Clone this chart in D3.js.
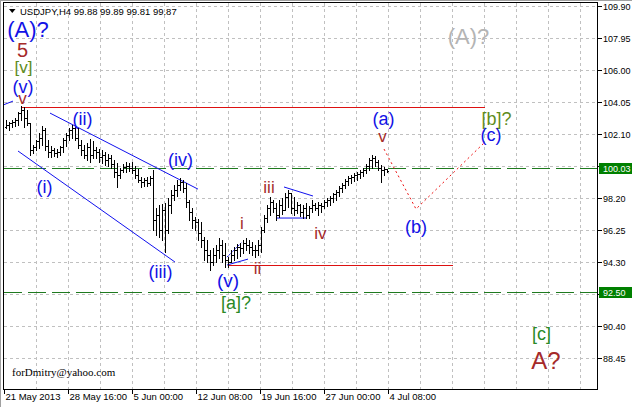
<!DOCTYPE html>
<html><head><meta charset="utf-8">
<script src="https://cdn.jsdelivr.net/npm/d3@7"></script>
<style>body{margin:0;background:#fff;} svg{display:block;}</style>
</head><body>
<svg id="c" width="632" height="407"></svg>
<script>
// ---------- data ----------
const symbolTitle = "USDJPY,H4  99.88 99.89 99.81 99.87";
const timeLabels = ["21 May 2013", "28 May 16:00", "5 Jun 00:00", "12 Jun 08:00", "19 Jun 16:00", "27 Jun 00:00", "4 Jul 08:00"];
const timeLabelBar = [-0.67, 20.67, 42, 63.33, 84.67, 106, 127.33];
const priceTicks = [109.90, 107.95, 106.00, 104.05, 102.10, 100.15, 98.20, 96.25, 94.30, 92.35, 90.40, 88.45];
const firstOpen = 102.53;
const highs = [102.96,102.84,102.96,103.08,103.44,103.81,103.75,103.57,102.77,101.43,
  101.74,102.17,102.59,102.47,101.74,101.37,101.25,101.19,101.37,101.86,
  102.17,102.47,102.65,102.53,102.47,101.74,101.43,101.56,101.80,101.68,
  101.31,101.19,101.13,101.01,100.89,100.83,100.52,100.34,100.03,100.28,
  100.40,100.34,100.40,100.16,99.97,99.49,99.42,99.49,99.55,99.91,
  97.60,97.78,97.84,97.90,98.21,98.69,99.00,99.30,99.42,99.30,
  99.12,98.08,97.60,97.05,96.93,96.75,95.83,95.65,95.04,95.16,
  95.34,95.77,95.65,95.47,94.61,95.04,95.22,95.41,95.47,95.65,
  95.77,95.65,95.53,95.34,95.65,96.44,97.17,97.78,98.27,98.08,
  97.90,98.08,98.21,98.51,98.69,98.51,98.27,97.96,97.84,97.78,
  97.90,97.72,98.08,97.90,97.96,97.90,98.08,98.21,98.33,98.51,
  98.69,98.94,99.12,99.36,99.55,99.61,99.73,99.79,99.91,100.03,
  100.28,100.64,100.83,100.76,100.52,100.22,100.09,99.89];
const lows = [102.47,102.35,102.53,102.59,102.65,102.96,102.53,102.65,100.83,100.95,
  101.13,101.25,101.43,101.13,100.70,100.70,100.76,100.70,100.83,101.01,
  101.37,101.74,101.86,101.74,101.25,100.83,100.64,100.52,100.40,100.64,
  100.64,100.40,100.34,100.22,100.16,100.03,99.49,98.88,99.42,99.79,
  99.79,99.85,99.73,99.42,99.18,98.88,98.94,98.94,99.00,96.26,
  95.95,95.83,95.65,94.92,96.08,97.29,98.08,98.33,98.69,98.57,
  97.66,96.87,96.38,96.26,95.65,95.22,94.43,94.31,93.82,94.13,
  94.31,94.55,94.31,94.00,94.00,94.31,94.43,94.55,94.67,94.86,
  95.04,94.86,94.74,94.61,94.74,94.92,96.14,96.75,97.17,97.35,
  96.87,97.05,97.23,97.48,97.66,97.29,97.17,97.29,97.11,96.99,
  96.99,96.99,97.35,97.48,97.17,97.35,97.60,97.72,97.78,97.96,
  98.08,98.33,98.57,98.82,99.00,99.12,99.24,99.30,99.42,99.55,
  99.73,99.91,100.03,100.16,99.91,99.18,99.61,99.81];
const closes = [102.65,102.77,102.84,102.96,103.38,103.57,103.08,102.77,101.13,101.31,
  101.68,101.86,102.35,101.37,101.01,101.13,100.95,101.01,101.31,101.74,
  102.04,102.35,102.47,101.86,101.43,101.13,100.83,101.31,100.83,101.13,
  101.01,100.70,100.83,100.52,100.64,100.28,99.79,99.61,99.91,100.09,
  100.16,100.03,99.91,99.61,99.30,99.18,99.30,99.12,99.42,96.87,
  97.17,96.26,97.48,96.26,97.78,98.39,98.69,99.00,99.18,98.82,
  97.96,97.35,96.87,96.75,96.08,95.65,95.04,94.74,94.31,94.74,
  95.04,95.34,94.74,94.43,94.31,94.74,95.04,95.22,95.16,95.47,
  95.34,95.22,95.04,95.04,95.34,96.26,96.99,97.60,97.96,97.60,
  97.17,97.78,97.48,98.27,98.51,97.60,97.48,97.78,97.35,97.60,
  97.17,97.60,97.78,97.60,97.78,97.72,97.96,98.08,98.21,98.45,
  98.57,98.82,99.00,99.24,99.42,99.49,99.61,99.67,99.79,99.91,
  100.16,100.52,100.64,100.40,100.03,99.91,99.97,99.87];
const priceMarkers = [100.03, 92.50];
const redLevels = [{from: 5, to: 159.67, price: 103.77}, {from: 74, to: 149, price: 94.11}];
const blueLines = [
  {a: [-1, 103.87], b: [2.33, 104.11], dash: null},
  {a: [14.67, 103.38], b: [64, 98.75], dash: null},
  {a: [4, 101.07], b: [56.33, 94.31], dash: null},
  {a: [73.67, 94.61], b: [78.67, 95.53], dash: "2,1"},
  {a: [73.67, 94.13], b: [80.67, 94.49], dash: null},
  {a: [92.67, 98.88], b: [102.33, 98.33], dash: null},
  {a: [90, 96.99], b: [100, 96.99], dash: null}
];
const projection = [[126, 101.19], [136.67, 97.54], [159.33, 101.56]];
const BLUE = "#1212e6", BROWN = "#a52a2a", GREEN = "#2a8a26", OLIVE = "#5f8c1c", GRAY = "#b4b4b4";
const waveLabels = [
  {t: "(A)?", i: 7.33, p: 108.01, c: BLUE, s: 22},
  {t: "5", i: 5.5, p: 106.79, c: BROWN, s: 20},
  {t: "[v]", i: 5.83, p: 105.82, c: OLIVE, s: 17},
  {t: "(v)", i: 5.67, p: 104.63, c: BLUE, s: 18},
  {t: "v", i: 5.5, p: 103.93, c: BROWN, s: 17},
  {t: "(i)", i: 12.83, p: 98.51, c: BLUE, s: 18},
  {t: "(ii)", i: 25.5, p: 102.68, c: BLUE, s: 18},
  {t: "(iii)", i: 51.5, p: 93.33, c: BLUE, s: 18},
  {t: "(iv)", i: 58.17, p: 100.13, c: BLUE, s: 18},
  {t: "(v)", i: 74, p: 92.79, c: BLUE, s: 19},
  {t: "[a]?", i: 76.67, p: 91.48, c: GREEN, s: 18},
  {t: "i", i: 78.67, p: 96.32, c: BROWN, s: 17},
  {t: "ii", i: 83.83, p: 93.58, c: BROWN, s: 17},
  {t: "iii", i: 87.67, p: 98.51, c: BROWN, s: 17},
  {t: "iv", i: 104.83, p: 95.71, c: BROWN, s: 17},
  {t: "(a)", i: 125.83, p: 102.65, c: BLUE, s: 18},
  {t: "v", i: 125.5, p: 101.62, c: BROWN, s: 17},
  {t: "(b)", i: 136.67, p: 96.07, c: BLUE, s: 18},
  {t: "[b]?", i: 163.5, p: 102.65, c: OLIVE, s: 18},
  {t: "(c)", i: 161.67, p: 101.68, c: BLUE, s: 18},
  {t: "(A)?", i: 154.17, p: 107.59, c: GRAY, s: 22},
  {t: "[c]", i: 178.5, p: 89.56, c: GREEN, s: 18},
  {t: "A?", i: 180, p: 87.79, c: BROWN, s: 24}
];
const watermark = "forDmitry@yahoo.com";

// ---------- layout ----------
const L = 3.5, R = 597.5, T = 2.5, B = 389.5;
const FONT = "Liberation Sans, Arial, sans-serif";
const svg = d3.select("#c");
const x = d3.scaleLinear().domain([0, highs.length - 1]).range([6, 387]);
const y = d3.scaleLinear().domain([88.45, 109.90]).range([358.3, 6]);

// window border
svg.append("rect").attr("x", 0).attr("y", 0).attr("width", 632).attr("height", 407).attr("fill", "#fff");
svg.append("line").attr("x1", 0).attr("x2", 632).attr("y1", 0.5).attr("y2", 0.5).attr("stroke", "#a0a0a0");
svg.append("line").attr("x1", 0.5).attr("x2", 0.5).attr("y1", 0).attr("y2", 407).attr("stroke", "#a0a0a0");

// grid
const gridStep = (timeLabelBar[1] - timeLabelBar[0]) / 2;
const vGrid = d3.range(1, 19).map(k => timeLabelBar[0] + k * gridStep);
const grid = svg.append("g").attr("stroke", "#c0c0c0").attr("stroke-dasharray", "3,3").attr("shape-rendering", "crispEdges");
grid.selectAll("line.v").data(vGrid).join("line").attr("class", "v")
  .attr("x1", d => Math.round(x(d)) + 0.5).attr("x2", d => Math.round(x(d)) + 0.5)
  .attr("y1", T).attr("y2", B);
grid.selectAll("line.h").data(priceTicks).join("line").attr("class", "h")
  .attr("x1", L).attr("x2", R)
  .attr("y1", d => Math.round(y(d)) + 0.5).attr("y2", d => Math.round(y(d)) + 0.5);

// green dashed level lines
svg.append("g").selectAll("line").data(priceMarkers).join("line")
  .attr("x1", L).attr("x2", R)
  .attr("y1", d => Math.round(y(d)) + 0.5).attr("y2", d => Math.round(y(d)) + 0.5)
  .attr("stroke", "#1f7a1f").attr("stroke-dasharray", "18,6").attr("shape-rendering", "crispEdges");

// red horizontal levels
svg.append("g").selectAll("line").data(redLevels).join("line")
  .attr("x1", d => x(d.from)).attr("x2", d => x(d.to))
  .attr("y1", d => Math.round(y(d.price)) + 0.5).attr("y2", d => Math.round(y(d.price)) + 0.5)
  .attr("stroke", "#dd1111").attr("shape-rendering", "crispEdges");

// blue trend lines
svg.append("g").selectAll("line").data(blueLines).join("line")
  .attr("x1", d => x(d.a[0])).attr("y1", d => y(d.a[1]))
  .attr("x2", d => x(d.b[0])).attr("y2", d => y(d.b[1]))
  .attr("stroke", "#1010ee").attr("stroke-width", 1)
  .attr("stroke-dasharray", d => d.dash);

// OHLC bars
const bars = svg.append("g").attr("stroke", "#000").attr("shape-rendering", "crispEdges");
highs.forEach((h, i) => {
  const cx = Math.round(x(i)) + 0.5;
  const open = i === 0 ? firstOpen : closes[i - 1];
  bars.append("line").attr("x1", cx).attr("x2", cx).attr("y1", Math.round(y(h))).attr("y2", Math.round(y(lows[i])) + 1);
  bars.append("line").attr("x1", cx - 1.5).attr("x2", cx).attr("y1", Math.round(y(open)) + 0.5).attr("y2", Math.round(y(open)) + 0.5);
  bars.append("line").attr("x1", cx).attr("x2", cx + 1.5).attr("y1", Math.round(y(closes[i])) + 0.5).attr("y2", Math.round(y(closes[i])) + 0.5);
});

// red dotted projection
svg.append("path").datum(projection)
  .attr("d", d3.line().x(d => x(d[0])).y(d => y(d[1])))
  .attr("fill", "none").attr("stroke", "#ee1111").attr("stroke-dasharray", "2,3");

// frame
svg.append("rect").attr("x", L).attr("y", T).attr("width", R - L).attr("height", B - T)
  .attr("fill", "none").attr("stroke", "#000").attr("shape-rendering", "crispEdges");

// right axis (tick labels hidden where a price marker covers them)
const ra = svg.append("g").attr("font-family", FONT).attr("font-size", 9);
priceTicks.forEach(v => {
  const yy = Math.round(y(v)) + 0.5;
  ra.append("line").attr("x1", R).attr("x2", R + 4).attr("y1", yy).attr("y2", yy).attr("stroke", "#000").attr("shape-rendering", "crispEdges");
});
const covered = v => priceMarkers.some(m => Math.abs(y(m) - y(v)) < 9);
priceTicks.filter(v => !covered(v)).forEach(v => {
  ra.append("text").attr("x", 603).attr("y", Math.round(y(v)) + 3.5).attr("fill", "#000").text(v.toFixed(2));
});
priceMarkers.forEach(v => {
  const yy = Math.round(y(v));
  ra.append("rect").attr("x", 599).attr("y", yy - 5).attr("width", 33).attr("height", 11).attr("fill", "#008000");
  ra.append("text").attr("x", 603).attr("y", yy + 3.5).attr("fill", "#fff").text(v.toFixed(2));
});

// bottom axis
const ba = svg.append("g").attr("font-family", FONT).attr("font-size", 9.5);
timeLabels.forEach((t, k) => {
  const xx = Math.round(x(timeLabelBar[k])) + 0.5;
  ba.append("line").attr("x1", xx).attr("x2", xx).attr("y1", B).attr("y2", B + 4).attr("stroke", "#000").attr("shape-rendering", "crispEdges");
  ba.append("text").attr("x", xx + 1).attr("y", 400).attr("fill", "#000").text(t);
});

// header
svg.append("path").attr("d", "M9,9 L15.5,9 L12.25,13 Z").attr("fill", "#000");
svg.append("text").attr("x", 20).attr("y", 15).attr("font-family", FONT).attr("font-size", 9.5).attr("fill", "#000").text(symbolTitle);

// watermark
svg.append("text").attr("x", 12).attr("y", 376).attr("font-family", "Liberation Serif, Times New Roman, serif")
  .attr("font-size", 11).attr("fill", "#000").text(watermark);

// wave labels
svg.append("g").attr("font-family", FONT).attr("text-anchor", "middle")
  .selectAll("text").data(waveLabels).join("text")
  .attr("x", d => x(d.i)).attr("y", d => y(d.p))
  .attr("font-size", d => d.s).attr("fill", d => d.c).text(d => d.t);
</script>
</body></html>
